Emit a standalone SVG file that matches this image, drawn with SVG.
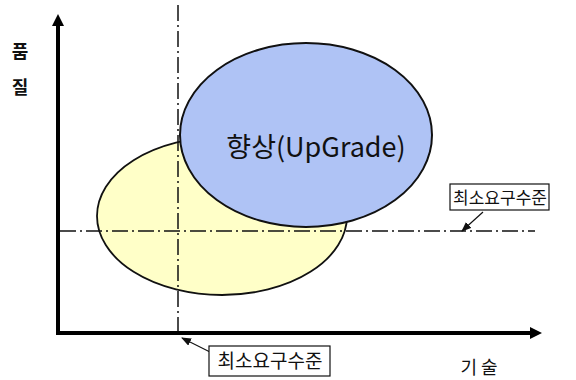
<svg xmlns="http://www.w3.org/2000/svg" width="576" height="380" viewBox="0 0 576 380">
<style>
.k{font-family:"Noto Sans CJK KR","Noto Sans",sans-serif;fill:#111}
.dd{stroke:#111;stroke-width:1.5;fill:none;stroke-dasharray:16 4 2 4}
.ax{stroke:#000;stroke-width:4;fill:none}
.lb{fill:#fff;stroke:#111;stroke-width:1.2}
</style>
<defs>
<marker id="ah" markerWidth="4" markerHeight="4" refX="2" refY="2" orient="auto" markerUnits="strokeWidth"><path d="M0,0.5 L3,2 L0,3.5 Z" fill="#000"/></marker>
<marker id="sa" markerWidth="10" markerHeight="8" refX="9" refY="4" orient="auto" markerUnits="userSpaceOnUse"><path d="M0,0 L10,4 L0,8 Z" fill="#111"/></marker>
</defs>
<rect width="576" height="380" fill="#fff"/>
<g id="low-ellipse"><ellipse cx="222" cy="216" rx="125" ry="79" fill="#FFFFC8" stroke="#111" stroke-width="1.8"/></g>
<g id="upgrade"><ellipse cx="306" cy="135" rx="126" ry="92" fill="#AFC3F5" stroke="#111" stroke-width="2"/>
<text class="k" x="316" y="157" font-size="27" text-anchor="middle">향상(UpGrade)</text></g>
<g id="connectors">
<line class="dd" x1="178" y1="5" x2="178" y2="333"/>
<line class="dd" x1="60" y1="231" x2="535" y2="231"/>
<line class="ax" x1="58" y1="335" x2="58" y2="18" marker-end="url(#ah)"/>
<line class="ax" x1="56" y1="333" x2="538" y2="333" marker-end="url(#ah)"/>
<line x1="483" y1="212" x2="462" y2="231" stroke="#111" stroke-width="1.2" marker-end="url(#sa)"/>
<line x1="210" y1="352" x2="182" y2="338" stroke="#111" stroke-width="1.2" marker-end="url(#sa)"/>
</g>
<g id="label-right"><rect class="lb" x="450" y="184" width="99" height="26"/>
<text class="k" x="500" y="204" font-size="17" text-anchor="middle">최소요구수준</text></g>
<g id="label-bottom"><rect class="lb" x="209" y="346" width="121" height="30"/>
<text class="k" x="270" y="368" font-size="19" text-anchor="middle">최소요구수준</text></g>
<g id="y-label"><text class="k" x="20" y="58" font-size="18" font-weight="bold" text-anchor="middle">품</text>
<text class="k" x="20" y="94" font-size="18" font-weight="bold" text-anchor="middle">질</text></g>
<g id="x-label"><text class="k" x="479" y="374" font-size="18" text-anchor="middle">기 술</text></g>
</svg>
